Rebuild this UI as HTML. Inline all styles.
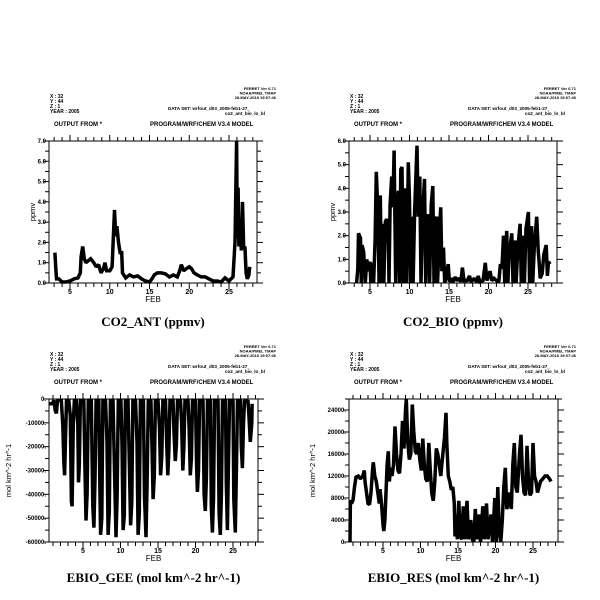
<!DOCTYPE html>
<html><head><meta charset="utf-8"><style>
html,body{margin:0;padding:0;background:#fff;}
svg{display:block;font-family:"Liberation Sans",sans-serif;}
</style></head><body>
<svg id="c" width="600" height="600" viewBox="0 0 600 600"></svg>
<script>
const antDays=[3.1,3.2,3.3,3.6,4.0,4.5,5.0,5.5,6.0,6.3,6.4,6.6,6.8,7.0,7.3,7.6,8.0,8.3,8.6,8.9,9.2,9.4,9.6,10.0,10.3,10.6,10.75,10.9,11.1,11.3,11.5,11.6,12,12.5,13,13.5,14,14.5,15,15.3,15.6,16,16.5,17,17.5,18,18.5,18.8,19,19.3,19.6,20,20.3,20.6,21,21.5,22,22.5,23,23.5,24,24.5,25,25.5,25.75,25.95,26.05,26.15,26.25,26.4,26.55,26.7,26.85,27.0,27.15,27.3,27.5,27.6];
const antVals=[1.5,0.8,0.2,0.2,0.05,0.05,0.1,0.2,0.25,0.5,1.3,1.8,1.2,1.0,1.1,1.2,1.0,0.8,0.9,0.5,0.7,1.0,0.6,0.6,0.8,3.6,2.3,2.8,2.0,1.5,1.5,0.5,0.25,0.4,0.3,0.35,0.2,0.1,0.05,0.2,0.4,0.5,0.5,0.45,0.3,0.4,0.3,0.6,0.9,0.6,0.7,0.8,0.7,0.5,0.4,0.3,0.3,0.2,0.1,0.1,0.05,0.25,0.1,0.3,2.0,7.0,2.2,4.7,1.8,3.2,1.6,4.0,1.7,1.8,0.5,0.2,0.4,0.8];
const bioDays=[3.3,3.45,3.55,3.8,3.9,4.0,4.2,4.4,4.6,4.8,5.0,5.1,5.3,5.45,5.65,5.8,6.0,6.15,6.3,6.45,6.6,6.75,6.95,7.1,7.3,7.4,7.55,7.75,7.9,8.05,8.25,8.4,8.6,8.75,8.9,9.05,9.2,9.35,9.5,9.65,9.85,10.0,10.15,10.3,10.45,10.65,10.95,11.1,11.3,11.45,11.65,11.9,12.05,12.2,12.4,12.55,12.75,12.95,13.1,13.3,13.45,13.55,13.8,13.95,14.1,14.3,14.45,14.7,14.9,15.05,15.3,15.5,15.8,16.0,16.3,16.5,16.7,16.9,17.3,17.6,17.8,18.2,18.5,18.7,18.9,19.3,19.6,19.8,20.2,20.4,20.7,21.0,21.3,21.5,21.7,21.9,22.05,22.3,22.45,22.6,22.95,23.1,23.35,23.5,23.7,24.0,24.15,24.4,24.55,24.75,25.05,25.2,25.45,25.6,25.8,26.1,26.3,26.4,26.55,26.8,27.0,27.3,27.45,27.6,27.8];
const bioVals=[0,0.6,2.1,1.9,0,1.6,1.3,0,1.0,0.5,0.9,0,0.85,0,1.8,4.7,3.0,0,3.7,0,2.5,0,2.6,2.7,2.3,0,3.3,4.5,3.2,5.6,0,3.0,3.9,0,4.8,4.9,0,3.6,4.0,0,5.1,3.5,0,2.8,0,3.0,5.8,2.8,4.5,0,2.8,4.4,0,2.7,2.9,0,3.3,4.1,0,2.6,2.8,0,2.0,3.2,0.5,1.5,0,0.3,0.8,0.05,0.2,0.05,0.25,0.1,0.2,0.05,0.65,0.1,0.1,0.3,0.05,0.2,0.05,0.3,0.05,0.1,0.85,0.1,0.5,0.1,0.2,0.1,0.05,0.8,0.6,2.0,0,2.2,0,1.2,2.1,0,1.8,0,1.4,2.5,0,2.0,0,2.3,3.0,0,2.4,0,1.5,2.8,1.3,0.9,0.2,0.4,1.2,1.6,0.3,0.9,0.8];
const geeDays=[0.5,0.9,1.1,1.3,1.45,1.6,2.1,2.3,2.45,2.55,2.65,2.8,3.1,3.3,3.45,3.55,3.7,3.85,4.1,4.3,4.4,4.5,4.65,5.1,5.25,5.4,5.55,5.7,6.1,6.3,6.45,6.6,6.75,7.1,7.25,7.35,7.5,7.65,8.0,8.2,8.35,8.5,8.65,9.0,9.2,9.4,9.55,9.7,10.05,10.2,10.35,10.5,10.65,11.0,11.2,11.35,11.5,11.65,12.0,12.2,12.35,12.5,12.65,13.05,13.2,13.4,13.55,13.7,14.05,14.2,14.35,14.5,14.65,15.0,15.2,15.35,15.5,15.65,16.0,16.15,16.3,16.45,16.6,17.0,17.15,17.3,17.45,17.6,18.0,18.15,18.3,18.45,18.6,19.0,19.15,19.3,19.45,19.6,20.0,20.15,20.25,20.4,20.55,21.0,21.15,21.3,21.45,21.6,22.0,22.1,22.25,22.4,22.55,23.0,23.15,23.3,23.45,23.6,24.0,24.1,24.25,24.4,24.55,25.0,25.1,25.3,25.45,25.6,26.0,26.1,26.25,26.4,26.55,27.0,27.1,27.3,27.5,27.55];
const geeVals=[-2000,-2000,-500,-5000,-6000,-500,-500,-11000,-27000,-32000,-18000,-500,-500,-7000,-43000,-45000,-10000,-500,-500,-11000,-35000,-28000,-500,-500,-28000,-51000,-40000,-500,-500,-45000,-54000,-34000,-500,-500,-38000,-57000,-50000,-500,-500,-18000,-57000,-47000,-500,-500,-30000,-58000,-41000,-500,-500,-19000,-55000,-49000,-500,-500,-30000,-53000,-43000,-500,-500,-18000,-57000,-48000,-500,-500,-41000,-58000,-35000,-500,-500,-20000,-42000,-32000,-500,-500,-12000,-32000,-24000,-500,-500,-17000,-32000,-21000,-500,-500,-15000,-26000,-19000,-500,-500,-10000,-30000,-20000,-500,-500,-12000,-32000,-25000,-500,-500,-28000,-39000,-30000,-500,-500,-40000,-47000,-33000,-500,-500,-45000,-56000,-42000,-500,-500,-48000,-57000,-40000,-500,-500,-35000,-55000,-25000,-500,-500,-42000,-56000,-30000,-500,-500,-20000,-29000,-10000,-500,-1000,-6000,-18000,-10000,-2000];
const resDays=[0.6,0.65,0.8,1.0,1.2,1.4,1.7,2.0,2.3,2.5,2.6,2.8,3.0,3.2,3.4,3.6,3.7,3.9,4.1,4.3,4.5,4.6,4.8,5.0,5.1,5.25,5.4,5.55,5.7,5.85,6.0,6.2,6.4,6.6,6.8,7.0,7.2,7.4,7.6,7.8,8.0,8.1,8.3,8.5,8.7,8.9,9.1,9.3,9.5,9.7,9.9,10.1,10.3,10.5,10.7,10.9,11.1,11.3,11.5,11.7,11.9,12.1,12.3,12.5,12.7,12.9,13.2,13.4,13.5,13.7,13.9,14.1,14.3,14.5,14.6,14.8,14.9,15.1,15.3,15.5,15.7,15.9,16.2,16.4,16.7,16.9,17.1,17.3,17.5,17.8,18.0,18.3,18.5,18.8,19.0,19.4,19.6,19.9,20.1,20.3,20.5,20.7,20.9,21.1,21.3,21.5,21.7,21.9,22.1,22.3,22.5,22.7,22.9,23.2,23.4,23.6,23.8,24.0,24.2,24.4,24.6,24.8,25.0,25.2,25.4,25.6,25.8,26.0,26.3,26.6,26.9,27.2,27.4];
const resVals=[0,7600,7000,7600,10000,11800,12000,11500,12000,13000,11000,9000,7000,6800,9000,13000,14500,12000,11000,9000,7000,9600,7000,3200,2000,4000,9000,14000,16500,11000,13500,12000,14000,21000,16000,13000,12500,16000,22000,17000,24000,26000,18000,15000,16000,25000,20000,16500,16000,18000,15000,13000,18800,14000,11500,11000,18000,13000,8800,7500,11000,17000,16000,14000,12000,15000,19000,23500,18000,12000,11000,9500,10000,7000,1000,5000,500,7500,1000,500,6500,500,7500,500,4000,500,0,6000,500,5000,0,6500,500,7000,500,5000,0,8000,0,10000,2000,0,4000,10000,13500,6000,7000,9000,6000,14000,18000,10000,9000,16000,19500,12000,9000,8500,17500,11000,8500,9000,18000,12000,11000,9000,10000,11000,11500,12000,12000,11500,11000];
const xTickLabels=[5,10,15,20,25];
const antYTicks=["0.0","1.0","2.0","3.0","4.0","5.0","6.0","7.0"];
const bioYTicks=["0.0","1.0","2.0","3.0","4.0","5.0","6.0"];
const geeYTicks=["0.","-10000.","-20000.","-30000.","-40000.","-50000.","-60000."];
const resYTicks=["0.","4000.","8000.","12000.","16000.","20000.","24000."];

const NS="http://www.w3.org/2000/svg";
const svg=document.getElementById('c');
function mk(tag,attrs,parent,text){const e=document.createElementNS(NS,tag);for(const k in attrs)e.setAttribute(k,attrs[k]);if(text!==undefined)e.textContent=text;(parent||svg).appendChild(e);return e;}

function panel(cfg){
  const g=mk('g',{});
  
  
  const ox=cfg.ox, oy=cfg.oy;
  const hd=[["X : 32",50,98],["Y : 44",50,103],["Z : 1",50,108],["YEAR : 2005",50,113]];
  hd.forEach(h=>{const t=mk('text',{x:h[1]+ox,y:h[2]+oy,'font-size':5,'font-weight':'bold'},g,h[0]);
    
    });
  [["FERRET Ver 6.71",90],["NOAA/PMEL TMAP",94.5],["28-MAY-2018 19:07:46",99]].forEach(h=>{
    const t=mk('text',{x:276+ox,y:h[1]+oy,'font-size':4,'font-weight':'bold','text-anchor':'end'},g,h[0]);
    
    });
  let t=mk('text',{x:168+ox,y:110+oy,'font-size':4.6,'font-weight':'bold'},g,"DATA SET: wrfout_d03_2005-feb1-27_");
  
  
  t=mk('text',{x:265+ox,y:115+oy,'font-size':4.6,'font-weight':'bold','text-anchor':'end'},g,"co2_ant_bio_lo_bl");
  
  
  t=mk('text',{x:54+ox,y:126+oy,'font-size':6,'font-weight':'bold'},g,"OUTPUT FROM *");
  
  
  t=mk('text',{x:150+ox,y:126+oy,'font-size':6,'font-weight':'bold'},g,"PROGRAM/WRF/CHEM V3.4 MODEL");
  
  

  const L=cfg.L,R=cfg.R,T=cfg.T,B=cfg.B;
  const xs=d=>cfg.x5+(d-5)*cfg.pxPerDay;
  const ys=v=>B-(v-cfg.ymin)/(cfg.ymax-cfg.ymin)*(B-T);
  const ax=mk('rect',{x:L,y:T,width:R-L,height:B-T,fill:'none',stroke:'#000','stroke-width':1},g);
  
  
  for(let d=Math.ceil(cfg.dmin);d<=cfg.dmax;d++){
    const x=xs(d); if(x<L||x>R) continue;
    const len=(d%5===0)?6:4;
    mk('line',{x1:x,y1:B,x2:x,y2:B+len,stroke:'#000','stroke-width':1},g);
    mk('line',{x1:x,y1:T,x2:x,y2:T-len,stroke:'#000','stroke-width':1},g);
  }
  xTickLabels.forEach(d=>{const tt=mk('text',{x:xs(d),y:B+11,'font-size':7,'font-weight':'bold','text-anchor':'middle'},g,String(d));
    
    });
  t=mk('text',{x:(L+R)/2,y:B+19,'font-size':8,'text-anchor':'middle'},g,"FEB");
  
  
  for(let v=cfg.ymin;v<=cfg.ymax+1e-9;v+=cfg.minor){
    const y=ys(v);
    const major=Math.abs(Math.round((v-cfg.ymin)/cfg.major)*cfg.major-(v-cfg.ymin))<1e-6;
    const len=major?6:4;
    mk('line',{x1:L,y1:y,x2:L-len,y2:y,stroke:'#000','stroke-width':1},g);
    mk('line',{x1:R,y1:y,x2:R+len,y2:y,stroke:'#000','stroke-width':1},g);
  }
  cfg.yLabels.forEach((lab,i)=>{
    const v=cfg.labelStart+i*cfg.major*cfg.labelDir;
    const tt=mk('text',{x:L-3,y:ys(v)+2,'font-size':6,'font-weight':'bold','text-anchor':'end'},g,lab);
    
    
  });
  t=mk('text',{x:0,y:0,'font-size':7.5,'text-anchor':'middle',transform:`translate(${cfg.ylabX},${(T+B)/2}) rotate(-90)`},g,cfg.ylabel);
  
  
  const pts=cfg.days.map((d,i)=>xs(d).toFixed(1)+','+ys(cfg.vals[i]).toFixed(1)).join(' ');
  const p=mk('polyline',{points:pts,fill:'none',stroke:'#000','stroke-width':3.5,'stroke-linejoin':'miter','stroke-miterlimit':1.5},g);
  
  
  t=mk('text',{x:(L+R)/2,y:cfg.titleY,'font-size':13,'text-anchor':'middle','font-family':'"Liberation Serif",serif','font-weight':'bold'},g,cfg.title);
  
  
}

panel({name:'co2-ant',ox:0,oy:0,L:49,R:257,T:141,B:283,x5:70,pxPerDay:7.95,dmin:2.4,dmax:28.5,ymin:0,ymax:7,major:1,minor:0.5,
  yLabels:antYTicks,labelStart:0,labelDir:1,ylabel:'ppmv',ylabX:35,days:antDays,vals:antVals,title:'CO2_ANT (ppmv)',titleY:326});
panel({name:'co2-bio',ox:300,oy:0,L:349,R:557,T:141,B:283,x5:370,pxPerDay:7.9,dmin:2.4,dmax:28.5,ymin:0,ymax:6,major:1,minor:0.5,
  yLabels:bioYTicks,labelStart:0,labelDir:1,ylabel:'ppmv',ylabX:335,days:bioDays,vals:bioVals,title:'CO2_BIO (ppmv)',titleY:326});
panel({name:'ebio-gee',ox:0,oy:258,L:49,R:258,T:399,B:542,x5:83,pxPerDay:7.5,dmin:0.5,dmax:28.3,ymin:-60000,ymax:0,major:10000,minor:5000,
  yLabels:geeYTicks,labelStart:0,labelDir:-1,ylabel:'mol km^-2 hr^-1',ylabX:11,days:geeDays,vals:geeVals,title:'EBIO_GEE (mol km^-2 hr^-1)',titleY:582});
panel({name:'ebio-res',ox:300,oy:258,L:349,R:558,T:399,B:542,x5:383,pxPerDay:7.5,dmin:0.5,dmax:28.3,ymin:0,ymax:26000,major:4000,minor:2000,
  yLabels:resYTicks,labelStart:0,labelDir:1,ylabel:'mol km^-2 hr^-1',ylabX:315,days:resDays,vals:resVals,title:'EBIO_RES (mol km^-2 hr^-1)',titleY:582});
</script>
</body></html>
